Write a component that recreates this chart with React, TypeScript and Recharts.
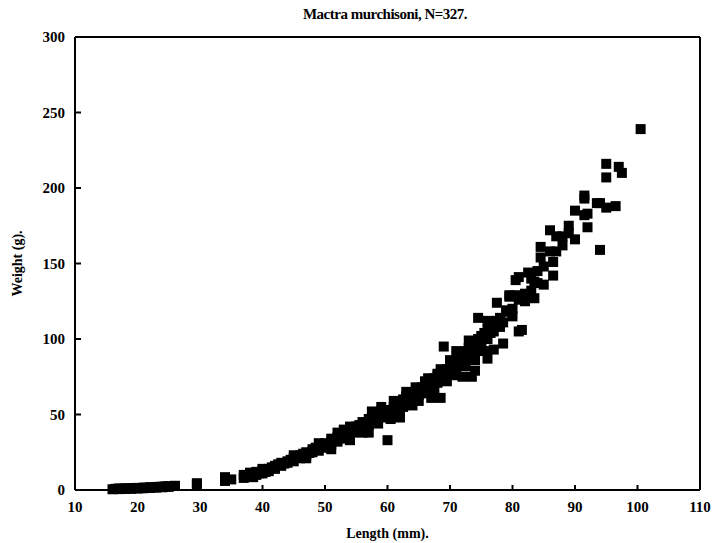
import React from "react";
import {
  ScatterChart,
  Scatter,
  XAxis,
  YAxis,
  ReferenceLine,
  Label,
} from "recharts";

// [length mm, weight g], grouped by size class
const juveniles: [number, number][] = [
  [16, 0.5], [16.5, 0.8], [17, 0.6], [17, 1], [17.5, 0.9], [18, 1], [18, 0.7],
  [18.5, 1.1], [19, 1.2], [19, 0.8], [19.5, 1.3], [20, 1.4], [20, 1], [20.5, 1.2],
  [21, 1.6], [21, 1.2], [21.5, 1.5], [22, 1.8], [22, 1.4], [22.5, 1.7], [23, 2],
  [23, 1.6], [23.5, 2.1], [24, 2.2], [24, 1.8], [24.5, 2.4], [25, 2.5], [25, 2.1],
  [26, 2.8], [29.5, 3.5], [29.5, 4.5], [34, 6], [34, 8.5], [35, 7],
];

const smallShells: [number, number][] = [
  [37, 8], [37, 10], [37.5, 9], [38, 10], [38, 11.5], [38.5, 8.5], [39, 12], [39, 10],
  [39.5, 11], [40, 13], [40, 11], [40, 14], [40.5, 12], [41, 14], [41, 12.5],
  [41.5, 15], [42, 16], [42, 14], [42.5, 17], [43, 18], [43, 16], [43.5, 17.5],
  [44, 19], [44, 18], [44.5, 20], [45, 21], [45, 19], [45, 23], [45.5, 22], [46, 23],
  [46, 21], [46.5, 24], [47, 25], [47, 23], [47, 21], [47.5, 24.5], [48, 27], [48, 25],
  [48.5, 28], [49, 28], [49, 26], [49, 31], [49.5, 30], [50, 31], [50, 28], [50, 29],
  [50.5, 30], [51, 32], [51, 30], [51, 34], [51, 27], [51.5, 33], [52, 35], [52, 32],
  [52, 38], [52.5, 36], [53, 37], [53, 34], [53, 40], [53.5, 39], [54, 40], [54, 36],
  [54, 42], [54, 33], [54.5, 38],
];

const midShells: [number, number][] = [
  [55, 42], [55, 40], [55.5, 43], [56, 45], [56, 41], [56, 38], [56.5, 44], [57, 47],
  [57, 43], [57, 38], [57.5, 48], [57.5, 52], [58, 50], [58, 46], [58.5, 49], [58.5, 44],
  [59, 52], [59, 48], [59, 55], [59.5, 50], [60, 53], [60, 50], [60, 33], [60.5, 52],
  [60.5, 47], [61, 55], [61, 52], [61, 59], [61.5, 56], [61.5, 53], [62, 58], [62, 54],
  [62, 48], [62.5, 60], [62.5, 55], [63, 62], [63, 57], [63, 65], [63.5, 59], [63.5, 63],
  [64, 64], [64, 60], [64, 56], [64.5, 62], [64.5, 68], [65, 66], [65, 63], [65, 59],
  [65.5, 68], [65.5, 64], [66, 70], [66, 66], [66, 72], [66.5, 68], [66.5, 74], [67, 72],
  [67, 69], [67, 61], [67.5, 74], [67.5, 66], [68, 76], [68, 71], [68, 77], [68.5, 74],
  [68.5, 61], [68.5, 80], [69, 78], [69, 75], [69, 95], [69.5, 80], [69.5, 72], [70, 82],
  [70, 78], [70, 86], [70.5, 84], [70.5, 81], [70.5, 76], [71, 86], [71, 80], [71, 92],
  [71.5, 88], [71.5, 84], [72, 90], [72, 85], [72, 75], [72.5, 92], [72.5, 82], [73, 94],
  [73, 88], [73, 91], [73, 99], [73.5, 96], [73.5, 75], [74, 98], [74, 92], [74, 79],
  [74, 86],
];

const largeShells: [number, number][] = [
  [74.5, 100], [74.5, 114], [75, 102], [75, 95], [75, 96], [75.5, 104], [75.5, 92],
  [76, 106], [76, 100], [76, 87], [76, 112], [76.5, 108], [76.5, 104], [77, 110],
  [77, 105], [77, 93], [77.5, 112], [77.5, 124], [78, 114], [78, 108], [78.5, 111],
  [78.5, 97], [79, 119], [79, 118], [79.5, 128], [79.5, 129], [80, 120], [80, 115],
  [80.5, 139], [80.5, 129], [81, 141], [81, 126], [81, 105], [81.5, 106], [82, 130],
  [82, 125], [82.5, 144], [83, 140], [83, 132], [83.5, 127], [83.5, 138], [84, 137],
  [84, 145], [84.5, 161], [84.5, 154], [85, 136], [85, 148], [86, 172], [86, 158],
  [86.5, 151], [86.5, 142], [87, 158], [87, 168], [88, 168], [88, 162], [89, 175],
  [89, 170], [90, 166], [90, 185], [91.5, 195], [91.5, 182], [91.5, 193], [92, 174],
  [92, 183], [93.5, 190], [94, 159], [94, 190], [95, 216], [95, 187], [95, 207],
  [96.5, 188], [97, 214], [97.5, 210], [100.5, 239],
];

const lengthTicks = [10, 20, 30, 40, 50, 60, 70, 80, 90, 100, 110];
const weightTicks = [0, 50, 100, 150, 200, 250, 300];

const points = [...juveniles, ...smallShells, ...midShells, ...largeShells].map(
  ([length, weight]) => ({ length, weight })
);

const FONT = '"Liberation Serif", "DejaVu Serif", serif';

function SquareMark(props: { cx?: number; cy?: number }) {
  const { cx = 0, cy = 0 } = props;
  return <rect x={cx - 5} y={cy - 5} width={10} height={10} fill="#000" />;
}

export default function App() {
  return (
    <div style={{ position: "absolute", left: 0, top: 0, background: "#fff" }}>
      <div
        style={{
          position: "absolute",
          left: 0,
          width: 770,
          top: 6,
          textAlign: "center",
          fontFamily: FONT,
          fontSize: 15,
          fontWeight: 600,
          letterSpacing: -0.5,
        }}
      >
        Mactra murchisoni, N=327.
      </div>
      <ScatterChart
        width={715}
        height={543}
        margin={{ top: 37, right: 15, bottom: 0, left: 0 }}
      >
        <XAxis
          type="number"
          dataKey="length"
          domain={[10, 110]}
          ticks={lengthTicks}
          interval={0}
          height={53}
          stroke="#000"
          strokeWidth={2}
          tickSize={-5}
          tickMargin={16}
          tick={{ fill: "#000", fontFamily: FONT, fontSize: 15, fontWeight: 700 }}
        >
          <Label
            value="Length (mm)."
            position="insideBottom"
            offset={5}
            style={{ fill: "#000", fontFamily: FONT, fontSize: 14, fontWeight: 700 }}
          />
        </XAxis>
        <YAxis
          type="number"
          dataKey="weight"
          domain={[0, 300]}
          ticks={weightTicks}
          interval={0}
          width={75}
          stroke="#000"
          strokeWidth={2}
          tickSize={-6}
          tickMargin={16}
          tick={{ fill: "#000", fontFamily: FONT, fontSize: 15, fontWeight: 700 }}
        >
          <Label
            value="Weight (g)."
            angle={-90}
            position="insideLeft"
            offset={17}
            style={{
              fill: "#000",
              fontFamily: FONT,
              fontSize: 14,
              fontWeight: 700,
              textAnchor: "middle",
            }}
          />
        </YAxis>
        <ReferenceLine y={300} stroke="#000" strokeWidth={2} />
        <ReferenceLine x={110} stroke="#000" strokeWidth={2} />
        <Scatter
          data={points}
          fill="#000"
          shape={<SquareMark />}
          isAnimationActive={false}
        />
      </ScatterChart>
    </div>
  );
}
